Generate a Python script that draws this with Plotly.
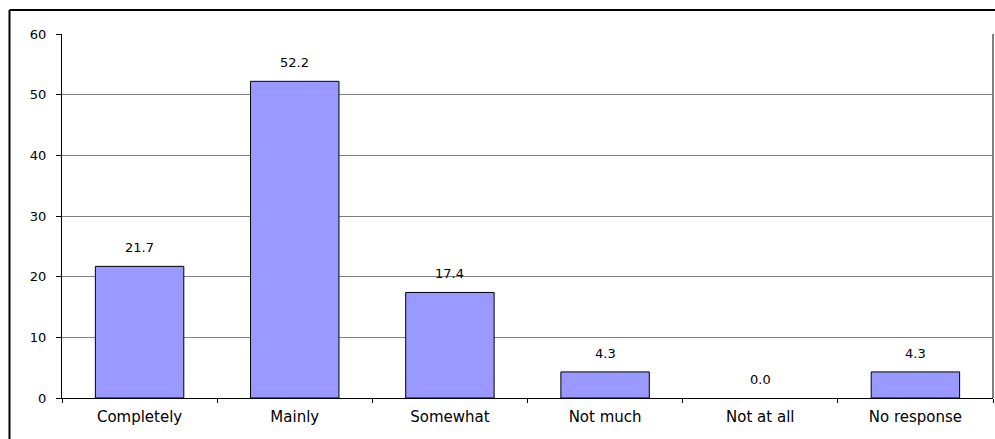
import plotly.graph_objects as go

categories = ["Completely", "Mainly", "Somewhat", "Not much", "Not at all", "No response"]
values = [21.7, 52.2, 17.4, 4.3, 0.0, 4.3]
y_ticks = [0, 10, 20, 30, 40, 50, 60]

W, H = 995, 439
L, R, T, B = 62, 2, 34, 41
pw = W - L - R
ph = H - T - B

FONT = "DejaVu Sans, Liberation Sans, Arial"

def px(x):
    return (x - L) / pw

def py(y):
    return (H - B - y) / ph

fig = go.Figure(go.Bar(
    x=categories, y=values,
    marker=dict(color="#9999FF",
                line=dict(color="black", width=[1 if v > 0 else 0 for v in values])),
    cliponaxis=False,
))

annotations = [
    dict(x=c, y=v, xref="x", yref="y", text=f"{v:.1f}", showarrow=False,
         yanchor="bottom", yshift=9, font=dict(family=FONT, size=13, color="black"))
    for c, v in zip(categories, values)
]

fig.update_layout(
    width=W, height=H,
    margin=dict(l=L, r=R, t=T, b=B),
    paper_bgcolor="white", plot_bgcolor="white",
    bargap=0.43,
    showlegend=False,
    font=dict(family=FONT, color="black"),
    annotations=annotations,
    xaxis=dict(
        type="category", tickson="boundaries", ticks="outside", ticklen=4,
        tickcolor="black", showline=True, linecolor="black", linewidth=1,
        showgrid=False, tickfont=dict(size=15), fixedrange=True,
        ticklabelstandoff=5,
    ),
    yaxis=dict(
        range=[0, 60], tickvals=y_ticks, ticks="outside", ticklen=5,
        tickcolor="black", showline=True, linecolor="black", linewidth=1,
        showgrid=True, gridcolor="#808080", gridwidth=1,
        tickfont=dict(size=13), zeroline=False, fixedrange=True,
        ticklabelstandoff=7,
    ),
    shapes=[
        dict(type="line", xref="paper", yref="paper", x0=px(9.5), x1=px(W + 5), y0=py(10), y1=py(10),
             line=dict(color="black", width=2)),
        dict(type="line", xref="paper", yref="paper", x0=px(9.5), x1=px(9.5), y0=py(10), y1=py(H + 5),
             line=dict(color="black", width=2)),
        dict(type="line", xref="paper", yref="paper", x0=px(993), x1=px(993), y0=0, y1=1,
             line=dict(color="#808080", width=2)),
    ],
)

fig.write_html("out.html")
